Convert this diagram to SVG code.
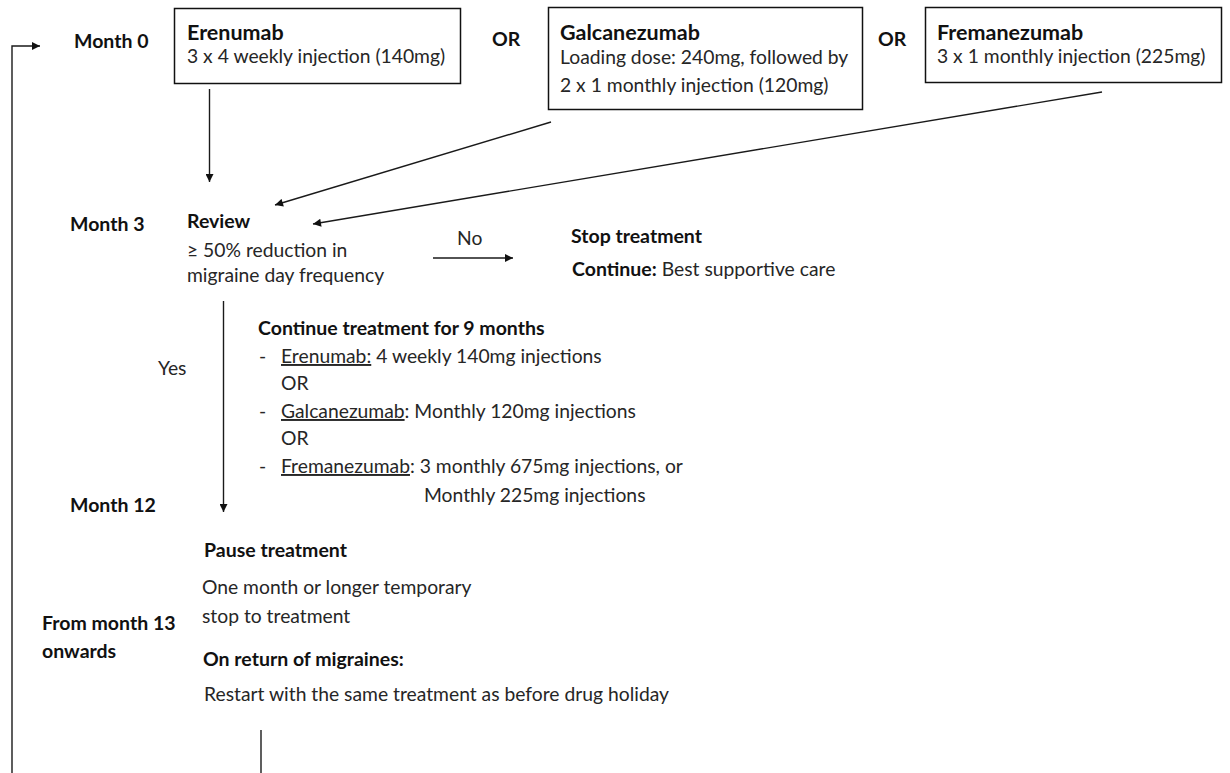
<svg xmlns="http://www.w3.org/2000/svg" width="1230" height="773" viewBox="0 0 1230 773">
<defs>
<marker id="ah" viewBox="0 0 10 10" refX="10" refY="5" markerWidth="10" markerHeight="8" markerUnits="userSpaceOnUse" orient="auto">
<path d="M0,0 L10,5 L0,10 Z" fill="#111"/>
</marker>
<style>
text{font-family:Lato,"Liberation Sans",Arial,sans-serif;fill:#262626;font-size:19.3px}
.b{font-weight:bold;fill:#111;font-size:19.5px}
.t{font-weight:bold;font-size:21.5px;fill:#111}
.box{fill:#fff;stroke:#111;stroke-width:1.5}
.ln{fill:none;stroke:#1a1a1a;stroke-width:1.4}
.u{text-decoration:underline}
</style>
</defs>
<rect width="1230" height="773" fill="#fff"/>
<g id="connectors">
<path class="ln" d="M12,773 V46 H40" marker-end="url(#ah)"/>
<path class="ln" d="M209.5,89 V182" marker-end="url(#ah)"/>
<path class="ln" d="M551,122 L275,205" marker-end="url(#ah)"/>
<path class="ln" d="M1102,92 L313,224" marker-end="url(#ah)"/>
<path class="ln" d="M433,258 H513" marker-end="url(#ah)"/>
<path class="ln" d="M223.5,301 V512" marker-end="url(#ah)"/>
<path class="ln" d="M261,730 V773"/>
</g>
<g id="labels">
<text class="b" x="74" y="48">Month 0</text>
<text class="b" x="492" y="46">OR</text>
<text class="b" x="878" y="46">OR</text>
<text class="b" x="70" y="231">Month 3</text>
<text x="457" y="245">No</text>
<text x="158" y="375">Yes</text>
<text class="b" x="70" y="512">Month 12</text>
<text class="b" x="42" y="630">From month 13</text>
<text class="b" x="42" y="658">onwards</text>
</g>
<g id="erenumab">
<rect class="box" x="174.5" y="8.5" width="286" height="75"/>
<text class="t" x="187" y="40">Erenumab</text>
<text x="187" y="63">3 x 4 weekly injection (140mg)</text>
</g>
<g id="galcanezumab">
<rect class="box" x="548.5" y="7.5" width="314" height="102"/>
<text class="t" x="560" y="40">Galcanezumab</text>
<text x="560" y="64">Loading dose: 240mg, followed by</text>
<text x="560" y="92">2 x 1 monthly injection (120mg)</text>
</g>
<g id="fremanezumab">
<rect class="box" x="925.5" y="7.5" width="296" height="75"/>
<text class="t" x="937" y="40">Fremanezumab</text>
<text x="937" y="63">3 x 1 monthly injection (225mg)</text>
</g>
<g id="review">
<text class="b" x="187" y="228">Review</text>
<text x="187" y="257">≥ 50% reduction in</text>
<text x="187" y="282">migraine day frequency</text>
</g>
<g id="stop">
<text class="b" x="571" y="243">Stop treatment</text>
<text x="572" y="276"><tspan class="b">Continue:</tspan> Best supportive care</text>
</g>
<g id="continue">
<text class="b" x="258" y="335">Continue treatment for 9 months</text>
<text x="259" y="363">-</text>
<text x="281" y="363"><tspan class="u">Erenumab:</tspan> 4 weekly 140mg injections</text>
<text x="281" y="390">OR</text>
<text x="259" y="418">-</text>
<text x="281" y="418"><tspan class="u">Galcanezumab</tspan>: Monthly 120mg injections</text>
<text x="281" y="445">OR</text>
<text x="259" y="473">-</text>
<text x="281" y="473"><tspan class="u">Fremanezumab</tspan>: 3 monthly 675mg injections, or</text>
<text x="424" y="502">Monthly 225mg injections</text>
</g>
<g id="pause">
<text class="b" x="204" y="557">Pause treatment</text>
<text x="202" y="594">One month or longer temporary</text>
<text x="202" y="623">stop to treatment</text>
<text class="b" x="203" y="666">On return of migraines:</text>
<text x="204" y="701">Restart with the same treatment as before drug holiday</text>
</g>
</svg>
